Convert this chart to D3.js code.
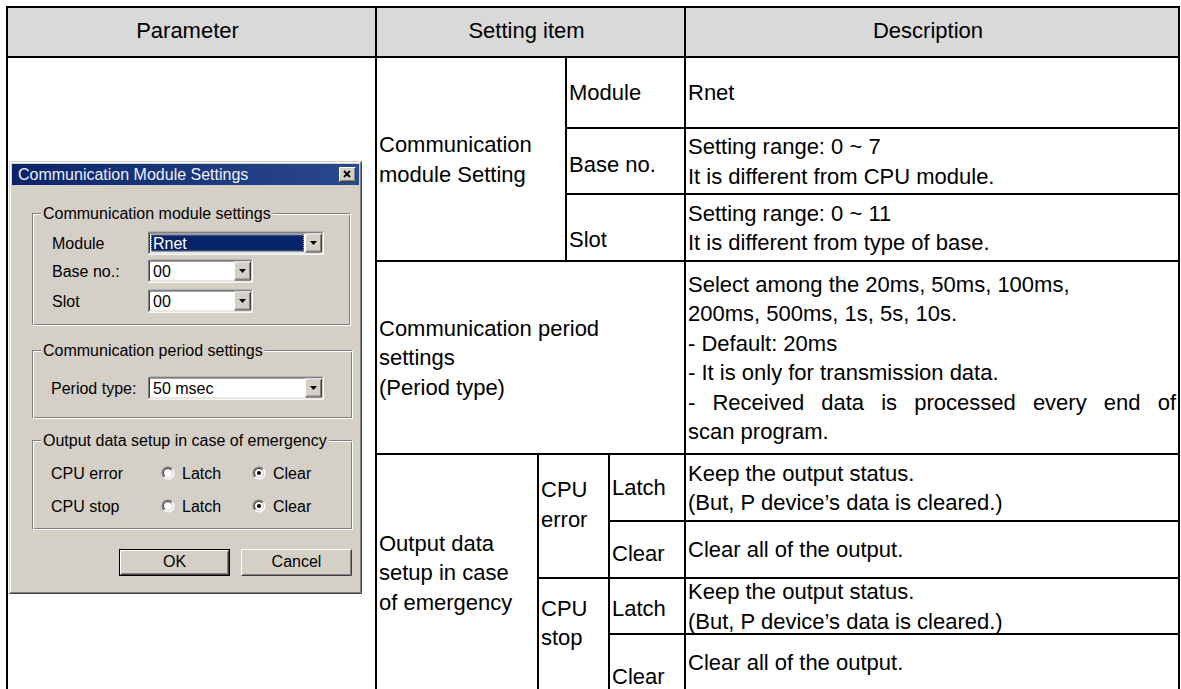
<!DOCTYPE html>
<html><head><meta charset="utf-8">
<script src="https://cdn.jsdelivr.net/npm/d3@7/dist/d3.min.js"></script>
<style>
html,body{margin:0;padding:0;background:#fff;}
svg{display:block;}
</style></head><body>
<svg id="c" width="1181" height="689"></svg>
<script>
// ---------------- data (texts) ----------------
const headers = ["Parameter", "Setting item", "Description"];
const settingGroups = [
  ["Communication", "module Setting"],
  ["Communication period", "settings", "(Period type)"],
  ["Output data", "setup in case", "of emergency"]
];
const moduleItems = ["Module", "Base no.", "Slot"];
const moduleDescriptions = [
  ["Rnet"],
  ["Setting range: 0 ~ 7", "It is different from CPU module."],
  ["Setting range: 0 ~ 11", "It is different from type of base."]
];
const periodDescription = [
  "Select among the 20ms, 50ms, 100ms,",
  "200ms, 500ms, 1s, 5s, 10s.",
  "- Default: 20ms",
  "- It is only for transmission data.",
  "- Received data is processed every end of",
  "scan program."
];
const cpuStates = [["CPU", "error"], ["CPU", "stop"]];
const outputModes = ["Latch", "Clear"];
const outputDescriptions = [
  ["Keep the output status.", "(But, P device\u2019s data is cleared.)"],
  ["Clear all of the output."]
];

// dialog texts
const dialogTitle = "Communication Module Settings";
const dialogGroups = ["Communication module settings", "Communication period settings", "Output data setup in case of emergency"];
const dialogFields = ["Module", "Base no.:", "Slot", "Period type:"];
const dialogValues = ["Rnet", "00", "00", "50 msec"];
const radioRows = ["CPU error", "CPU stop"];
const radioOptions = ["Latch", "Clear"];
const radioSelected = [1, 1];
const dialogButtons = ["OK", "Cancel"];

// ---------------- layout ----------------
const colEdges = [7, 376, 538, 566, 609, 685, 1179];
const rowEdges = [7, 57, 128, 194, 261, 454, 521, 578, 634, 691];
const FS = 22, LH = 29.5, PAD = 3;
const FONT = "'Liberation Sans', Arial, Helvetica, sans-serif";
const itemOffsets = [0, 3, 12];
const modeOffsets = [0, 4, 2, 14];
const cpuOffset = -12;

const X = d3.scaleOrdinal().domain(d3.range(colEdges.length)).range(colEdges);
const Y = d3.scaleOrdinal().domain(d3.range(rowEdges.length)).range(rowEdges);

const svg = d3.select("#c");

// build cells
const cells = [];
const headerCols = [[0, 1], [1, 5], [5, 6]];
headers.forEach((h, i) => cells.push({ c: headerCols[i], r: [0, 1], lines: [h], align: "middle", fill: "#d9d9d9", dy: -2, dx: -4 }));
cells.push({ c: [0, 1], r: [1, 9], lines: [] });
cells.push({ c: [1, 3], r: [1, 4], lines: settingGroups[0] });
moduleItems.forEach((m, i) => {
  cells.push({ c: [3, 5], r: [1 + i, 2 + i], lines: [m], dy: itemOffsets[i] });
  cells.push({ c: [5, 6], r: [1 + i, 2 + i], lines: moduleDescriptions[i] });
});
cells.push({ c: [1, 5], r: [4, 5], lines: settingGroups[1] });
cells.push({ c: [5, 6], r: [4, 5], lines: periodDescription, justify: [4] });
cells.push({ c: [1, 2], r: [5, 9], lines: settingGroups[2] });
cpuStates.forEach((s, i) => {
  cells.push({ c: [2, 4], r: [5 + 2 * i, 7 + 2 * i], lines: s, dy: cpuOffset });
  outputModes.forEach((m, j) => {
    const r0 = 5 + 2 * i + j;
    cells.push({ c: [4, 5], r: [r0, r0 + 1], lines: [m], dy: modeOffsets[i * 2 + j] });
    cells.push({ c: [5, 6], r: [r0, r0 + 1], lines: outputDescriptions[j] });
  });
});

const gTable = svg.append("g");
gTable.selectAll("rect.fill").data(cells).join("rect").attr("class", "fill")
  .attr("x", d => X(d.c[0])).attr("y", d => Y(d.r[0]))
  .attr("width", d => X(d.c[1]) - X(d.c[0])).attr("height", d => Y(d.r[1]) - Y(d.r[0]))
  .attr("fill", d => d.fill || "#fff");

// measurement helper
const meas = svg.append("text").attr("font-family", FONT).attr("font-size", FS).attr("visibility", "hidden");
function textW(s, fs, fam) {
  meas.attr("font-size", fs || FS).attr("font-family", fam || FONT).text(s);
  return meas.node().getComputedTextLength();
}

const gText = svg.append("g").attr("font-family", FONT).attr("font-size", FS).attr("fill", "#000");
cells.forEach(cell => {
  const n = cell.lines.length;
  if (!n) return;
  const x0 = X(cell.c[0]), x1 = X(cell.c[1]);
  const cy = (Y(cell.r[0]) + Y(cell.r[1])) / 2 + (cell.dy || 0);
  cell.lines.forEach((ln, k) => {
    const by = cy + (k - (n - 1) / 2) * LH + 0.36 * FS;
    if (cell.justify && cell.justify.includes(k)) {
      const words = ln.split(" ");
      const ws = words.map(w => textW(w));
      const avail = (x1 - PAD) - (x0 + PAD);
      const gap = (avail - d3.sum(ws)) / (words.length - 1);
      let cx = x0 + PAD;
      words.forEach((w, wi) => {
        gText.append("text").attr("x", cx).attr("y", by).text(w);
        cx += ws[wi] + gap;
      });
    } else {
      gText.append("text")
        .attr("x", cell.align === "middle" ? (x0 + x1) / 2 + (cell.dx || 0) : x0 + PAD)
        .attr("y", by)
        .attr("text-anchor", cell.align === "middle" ? "middle" : "start")
        .text(ln);
    }
  });
});

gTable.selectAll("rect.border").data(cells).join("rect").attr("class", "border")
  .attr("x", d => X(d.c[0])).attr("y", d => Y(d.r[0]))
  .attr("width", d => X(d.c[1]) - X(d.c[0])).attr("height", d => Y(d.r[1]) - Y(d.r[0]))
  .attr("fill", "none").attr("stroke", "#000").attr("stroke-width", 2);

// ---------------- dialog ----------------
const BG = "#d4d0c8";
const DFS = 16;
const g = svg.append("g").attr("font-family", FONT).attr("font-size", DFS);
const D = { x: 9, y: 161, w: 353, h: 433 };

function bevel(x, y, w, h, c) { // c: [outerTL, outerBR, innerTL, innerBR]
  const p = (x, y, w, h, tl, br) => {
    g.append("path").attr("d", `M${x + .5},${y + h - .5}V${y + .5}H${x + w - .5}`).attr("fill", "none").attr("stroke", tl);
    g.append("path").attr("d", `M${x + w - .5},${y + .5}V${y + h - .5}H${x + .5}`).attr("fill", "none").attr("stroke", br);
  };
  p(x, y, w, h, c[0], c[1]);
  p(x + 1, y + 1, w - 2, h - 2, c[2], c[3]);
}
const RAISED = ["#ffffff", "#404040", BG, "#808080"];
const SUNKEN = ["#808080", "#ffffff", "#404040", BG];
const FRAME = [BG, "#404040", "#ffffff", "#808080"];

g.append("rect").attr("x", D.x).attr("y", D.y).attr("width", D.w).attr("height", D.h).attr("fill", BG);
bevel(D.x, D.y, D.w, D.h, FRAME);

// title bar
const defs = svg.append("defs");
const grad = defs.append("linearGradient").attr("id", "tb");
grad.append("stop").attr("offset", "0").attr("stop-color", "#0a246a");
grad.append("stop").attr("offset", "1").attr("stop-color", "#2a4a8e");
g.append("rect").attr("x", D.x + 3).attr("y", D.y + 3).attr("width", D.w - 6).attr("height", 21).attr("fill", "url(#tb)");
g.append("text").attr("x", D.x + 9).attr("y", D.y + 13.5).attr("dy", "0.36em").attr("fill", "#eef0f6").text(dialogTitle);
const cb = { x: D.x + D.w - 23, y: D.y + 6, w: 17, h: 15 };
g.append("rect").attr("x", cb.x).attr("y", cb.y).attr("width", cb.w).attr("height", cb.h).attr("fill", BG);
bevel(cb.x, cb.y, cb.w, cb.h, RAISED);
g.append("path").attr("d", `M${cb.x + 5},${cb.y + 4}L${cb.x + 11},${cb.y + 10}M${cb.x + 11},${cb.y + 4}L${cb.x + 5},${cb.y + 10}`)
  .attr("stroke", "#000").attr("stroke-width", 1.8);

// group boxes
const groupBoxes = [
  { x: 32, y: 213, w: 318, h: 112 },
  { x: 32, y: 350, w: 320, h: 68 },
  { x: 32, y: 440, w: 320, h: 89 }
];
dialogGroups.forEach((lab, i) => {
  const b = groupBoxes[i];
  g.append("rect").attr("x", b.x + .5).attr("y", b.y + .5).attr("width", b.w - 1).attr("height", b.h - 1).attr("fill", "none").attr("stroke", "#808080");
  g.append("rect").attr("x", b.x + 1.5).attr("y", b.y + 1.5).attr("width", b.w - 1).attr("height", b.h - 1).attr("fill", "none").attr("stroke", "#fff");
  const tw = textW(lab, DFS);
  g.append("rect").attr("x", b.x + 9).attr("y", b.y - 8).attr("width", tw + 4).attr("height", 16).attr("fill", BG);
  g.append("text").attr("x", b.x + 11).attr("y", b.y).attr("dy", "0.36em").text(lab);
});

// combos
const combos = [
  { lx: 52, cy: 243, x: 148, w: 176, sel: true },
  { lx: 52, cy: 271, x: 148, w: 105 },
  { lx: 52, cy: 301, x: 148, w: 105 },
  { lx: 51, cy: 388, x: 148, w: 176 }
];
dialogFields.forEach((lab, i) => {
  const c = combos[i], h = 23, y = c.cy - h / 2;
  g.append("text").attr("x", c.lx).attr("y", c.cy).attr("dy", "0.36em").text(lab);
  g.append("rect").attr("x", c.x).attr("y", y).attr("width", c.w).attr("height", h).attr("fill", "#fff");
  bevel(c.x, y, c.w, h, SUNKEN);
  const bw = 17, bx = c.x + c.w - 2 - bw, by = y + 2, bh = h - 4;
  g.append("rect").attr("x", bx).attr("y", by).attr("width", bw).attr("height", bh).attr("fill", BG);
  bevel(bx, by, bw, bh, RAISED);
  const ax = bx + bw / 2, ay = by + bh / 2;
  g.append("path").attr("d", `M${ax - 3.5},${ay - 2}H${ax + 3.5}L${ax},${ay + 2}Z`).attr("fill", "#000");
  if (c.sel) {
    g.append("rect").attr("x", c.x + 3).attr("y", y + 3).attr("width", bx - c.x - 4).attr("height", h - 6).attr("fill", "#0a246a");
    g.append("rect").attr("x", c.x + 3.5).attr("y", y + 3.5).attr("width", bx - c.x - 5).attr("height", h - 7)
      .attr("fill", "none").attr("stroke", "#b8b890").attr("stroke-dasharray", "1,1");
  }
  g.append("text").attr("x", c.x + 5).attr("y", c.cy).attr("dy", "0.36em").attr("fill", c.sel ? "#fff" : "#000").text(dialogValues[i]);
});

// radios
const radioY = [473, 506];
const radioX = [168, 259];
const arc = d3.arc();
radioRows.forEach((lab, i) => {
  const cy = radioY[i];
  g.append("text").attr("x", 51).attr("y", cy).attr("dy", "0.36em").text(lab);
  radioOptions.forEach((opt, j) => {
    const cx = radioX[j];
    const rg = g.append("g").attr("transform", `translate(${cx},${cy})`);
    rg.append("circle").attr("r", 4.5).attr("fill", "#fff");
    rg.append("path").attr("d", arc({ innerRadius: 5, outerRadius: 6.5, startAngle: -3 * Math.PI / 4, endAngle: Math.PI / 4 })).attr("fill", "#808080");
    rg.append("path").attr("d", arc({ innerRadius: 5, outerRadius: 6.5, startAngle: Math.PI / 4, endAngle: 5 * Math.PI / 4 })).attr("fill", "#fff");
    rg.append("path").attr("d", arc({ innerRadius: 4, outerRadius: 5, startAngle: -3 * Math.PI / 4, endAngle: Math.PI / 4 })).attr("fill", "#404040");
    rg.append("path").attr("d", arc({ innerRadius: 4, outerRadius: 5, startAngle: Math.PI / 4, endAngle: 5 * Math.PI / 4 })).attr("fill", BG);
    if (radioSelected[i] === j) rg.append("circle").attr("r", 2).attr("fill", "#000");
    g.append("text").attr("x", cx + 14).attr("y", cy).attr("dy", "0.36em").text(opt);
  });
});

// buttons
const buttons = [{ x: 119, y: 549, w: 111, h: 27, def: true }, { x: 241, y: 549, w: 111, h: 27 }];
dialogButtons.forEach((lab, i) => {
  const b = buttons[i];
  g.append("rect").attr("x", b.x).attr("y", b.y).attr("width", b.w).attr("height", b.h).attr("fill", BG);
  if (b.def) {
    g.append("rect").attr("x", b.x + .5).attr("y", b.y + .5).attr("width", b.w - 1).attr("height", b.h - 1).attr("fill", "none").attr("stroke", "#000");
    bevel(b.x + 1, b.y + 1, b.w - 2, b.h - 2, RAISED);
  } else {
    bevel(b.x, b.y, b.w, b.h, RAISED);
  }
  g.append("text").attr("x", b.x + b.w / 2).attr("y", b.y + b.h / 2 - 1).attr("dy", "0.36em").attr("text-anchor", "middle").text(lab);
});
meas.remove();
</script>
</body></html>
